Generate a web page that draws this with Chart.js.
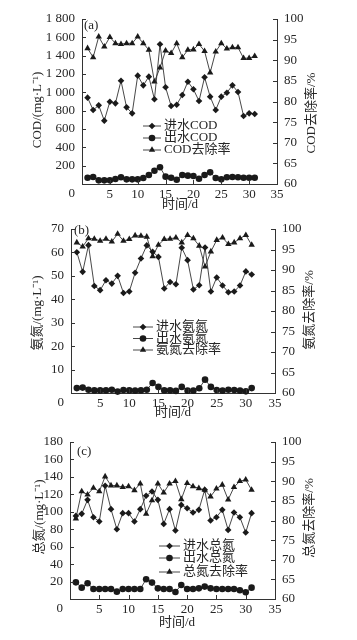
<!DOCTYPE html>
<html><head><meta charset="utf-8">
<script src="https://cdn.jsdelivr.net/npm/chart.js@4.4.1/dist/chart.umd.min.js"></script>
<style>
html,body{margin:0;padding:0;background:#fff;width:357px;height:640px;overflow:hidden}
canvas{position:absolute;left:0}
</style></head><body>
<canvas id="ca" width="357" height="212" style="top:0"></canvas>
<canvas id="cb" width="357" height="214" style="top:212px"></canvas>
<canvas id="cc" width="357" height="214" style="top:426px"></canvas>
<script>
// ---- data ----
const days = [1,2,3,4,5,6,7,8,9,10,11,12,13,14,15,16,17,18,19,20,21,22,23,24,25,26,27,28,29,30,31];
const xTicks = [0,5,10,15,20,25,30,35];

const codIn  = [942,807,858,691,898,880,1127,836,771,1182,1076,1171,924,1524,1055,851,865,971,1116,1033,905,1164,953,807,953,996,1076,1004,742,771,764];
const codOut = [69,76,40,40,40,55,73,51,51,51,65,98,145,182,80,69,47,98,91,87,58,98,127,65,51,73,76,73,69,69,69];
const codRem = [92.9,90.7,95.7,93.3,95.6,94.1,93.9,94.1,94.1,95.7,94.1,92.5,84.8,88.2,92.3,91.7,94.1,90.7,92.5,92.6,93.9,92.2,87.0,92.1,94.1,92.8,93.1,93.1,90.5,90.5,91.0];

const nhIn  = [60.1,51.7,63.1,45.7,43.9,48.1,46.7,50.0,42.7,43.3,51.3,57.4,63.0,60.3,58.1,44.6,47.4,46.4,62.0,56.7,44.2,46.0,62.1,43.3,49.3,45.9,43.0,43.3,45.9,51.9,50.6];
const nhOut = [2.1,2.3,1.4,1.1,1.1,1.1,1.4,0.6,1.3,1.1,1.0,1.1,1.4,4.3,2.6,1.1,1.1,0.9,2.6,1.0,1.0,2.0,5.7,2.6,1.3,1.0,1.4,1.3,1.0,0.7,2.1];
const nhRem = [96.7,95.7,97.7,97.6,97.1,97.6,96.9,98.8,97.1,97.5,98.4,98.3,98.1,93.3,96.1,97.5,97.6,97.9,96.7,98.5,97.7,95.9,90.8,94.5,97.3,97.9,96.3,96.7,97.7,98.5,96.1];

const tnIn  = [95.3,97.6,113.7,93.8,88.8,129.8,103.0,80.0,98.4,98.4,88.8,103.0,118.3,123.3,113.7,86.1,103.0,78.5,107.9,104.1,99.1,102.2,125.2,90.0,93.8,102.2,79.2,99.1,93.8,76.2,98.4];
const tnOut = [19.1,13.0,18.0,11.5,11.5,11.5,11.5,8.4,11.5,11.5,11.5,11.5,22.6,18.8,12.2,11.5,11.5,8.0,16.1,11.5,11.5,12.2,14.2,12.2,11.5,11.5,11.5,11.5,10.0,7.7,13.0];
const tnRem = [80.5,87.4,86.6,88.3,87.4,91.2,88.9,88.9,88.5,88.7,87.7,89.4,81.7,85.1,89.4,87.1,89.4,90.0,85.4,89.5,88.7,88.2,87.8,86.1,88.1,89.1,85.3,88.5,90.0,90.4,87.8];

const legendA = ['进水COD','出水COD','COD去除率'];
const legendB = ['进水氨氮','出水氨氮','氨氮去除率'];
const legendC = ['进水总氮','出水总氮','总氮去除率'];

// ---- style ----
const FONT = '"Liberation Serif", "Noto Sans CJK SC", serif';
const INK = '#262626';
const LINE = '#333';
Chart.defaults.font.family = FONT;
Chart.defaults.font.size = 13;
Chart.defaults.color = INK;

function pts(vals){ return vals.map((v,i)=>({x:days[i], y:v})); }
function fmtThousand(v){
  if (v === 0) return '';
  if (v >= 1000) return Math.floor(v/1000) + ' ' + String(v%1000).padStart(3,'0');
  return String(v);
}
const styles = [
  {pointStyle:'rectRot', pointRadius:3.3},
  {pointStyle:'circle', pointRadius:3.3},
  {pointStyle:'triangle', pointRadius:3.7}
];

const deco = {
  id:'deco',
  afterDraw(chart, args, o){
    const ctx = chart.ctx, ca = chart.chartArea;
    const sx = chart.scales.x, sy = chart.scales.y, sr = chart.scales.y1;
    ctx.save();
    ctx.strokeStyle = LINE; ctx.lineWidth = 1;
    // inward ticks
    const L = 4;
    ctx.beginPath();
    xTicks.forEach(t=>{ const px = Math.round(sx.getPixelForValue(t))+0.5; ctx.moveTo(px, ca.bottom); ctx.lineTo(px, ca.bottom-L); });
    sy.ticks.forEach(t=>{ const py = Math.round(sy.getPixelForValue(t.value))+0.5; ctx.moveTo(ca.left, py); ctx.lineTo(ca.left+L, py); });
    sr.ticks.forEach(t=>{ const py = Math.round(sr.getPixelForValue(t.value))+0.5; ctx.moveTo(ca.right, py); ctx.lineTo(ca.right-L, py); });
    ctx.stroke();
    ctx.fillStyle = INK;
    ctx.font = '13px ' + FONT;
    // zero label shared by the axes
    ctx.textAlign = 'right'; ctx.textBaseline = 'top';
    ctx.fillText('0', ca.left - 7, ca.bottom + o.zeroDy);
    // panel label
    ctx.textAlign = 'left'; ctx.textBaseline = 'middle';
    ctx.fillText(o.panel, o.panelX, o.panelY);
    // x title
    ctx.textAlign = 'center';
    ctx.fillText('时间/d', o.xTitle[0], o.xTitle[1]);
    // rotated titles
    [[o.lTitle, o.lPos],[o.rTitle, o.rPos]].forEach(([txt,p])=>{
      ctx.save(); ctx.translate(p[0], p[1]); ctx.rotate(-Math.PI/2);
      ctx.textAlign='center'; ctx.textBaseline='middle';
      ctx.fillText(txt, 0, 0); ctx.restore();
    });
    // legend
    o.legend.forEach((txt,i)=>{
      const y = o.legY[i];
      ctx.beginPath(); ctx.lineWidth = 0.9; ctx.strokeStyle = LINE;
      ctx.moveTo(o.legX[0], y); ctx.lineTo(o.legX[1], y); ctx.stroke();
      ctx.fillStyle = '#1a1a1a';
      Chart.helpers.drawPoint(ctx, {pointStyle: styles[i].pointStyle, radius: styles[i].pointRadius, rotation:0, borderWidth:0}, (o.legX[0]+o.legX[1])/2, y);
      ctx.fillStyle = INK; ctx.textAlign='left'; ctx.textBaseline='middle';
      ctx.fillText(txt, o.legX[2], y);
    });
    ctx.restore();
  }
};

function make(id, cfg){
  const ds = cfg.series.map((vals,i)=>({
    data: pts(vals), yAxisID: i===2 ? 'y1' : 'y',
    borderColor: LINE, borderWidth: 0.9, backgroundColor: '#1a1a1a',
    pointBorderWidth: 0, pointBackgroundColor:'#1a1a1a',
    pointStyle: styles[i].pointStyle, pointRadius: styles[i].pointRadius,
    tension: 0, clip: false
  }));
  const axisCommon = {
    grid:{display:false, drawTicks:false, tickLength:0}, border:{display:true, color:LINE, width:1}
  };
  return new Chart(document.getElementById(id), {
    type:'line',
    data:{datasets: ds},
    options:{
      responsive:false, animation:false, devicePixelRatio:1,
      layout:{padding:{top:cfg.top, left:0, right:0, bottom:0}},
      plugins:{legend:{display:false}, tooltip:{enabled:false}, deco: cfg.deco},
      scales:{
        x:{type:'linear', min:0, max:35, ...axisCommon,
           afterBuildTicks: s=>{ s.ticks = xTicks.map(v=>({value:v})); },
           ticks:{padding:3, color:INK, autoSkip:false, callback:v=> v===0 ? '' : String(v), maxRotation:0},
           afterFit: s=>{ s.height = cfg.xH; }},
        y:{position:'left', min:cfg.yMin, max:cfg.yMax, ...axisCommon,
           ticks:{stepSize:cfg.yStep, padding:7, autoSkip:false, color:INK, callback:v=>fmtThousand(v)},
           afterFit: s=>{ s.width = cfg.left; }},
        y1:{position:'right', min:60, max:100, ...axisCommon,
           ticks:{stepSize:5, padding:7, autoSkip:false, color:INK},
           afterFit: s=>{ s.width = 357 - cfg.right; }}
      }
    },
    plugins:[deco]
  });
}

make('ca', {series:[codIn,codOut,codRem], top:19, xH:212-184, left:82, right:277,
  yMin:0, yMax:1800, yStep:200,
  deco:{panel:'(a)', panelX:84, panelY:26, zeroDy:3, xTitle:[180,205],
    lTitle:'COD/(mg·L⁻¹)', lPos:[38,110], rTitle:'COD去除率/%', rPos:[312,113],
    legend:legendA, legX:[143,161,164], legY:[126,138,150]}});

make('cb', {series:[nhIn,nhOut,nhRem], top:17, xH:214-181, left:71, right:275,
  yMin:0, yMax:70, yStep:10,
  deco:{panel:'(b)', panelX:74, panelY:19, zeroDy:3, xTitle:[173,201],
    lTitle:'氨氮/(mg·L⁻¹)', lPos:[38,101], rTitle:'氨氮去除率/%', rPos:[310,98],
    legend:legendB, legX:[133,153,156], legY:[115,126.5,138]}});

make('cc', {series:[tnIn,tnOut,tnRem], top:16, xH:214-173, left:70, right:275,
  yMin:0, yMax:180, yStep:20,
  deco:{panel:'(c)', panelX:77, panelY:26, zeroDy:3, xTitle:[177,197],
    lTitle:'总氮/(mg·L⁻¹)', lPos:[40,91], rTitle:'总氮去除率/%', rPos:[310,92],
    legend:legendC, legX:[159,180,183], legY:[120,132,146]}});
</script>
</body></html>
